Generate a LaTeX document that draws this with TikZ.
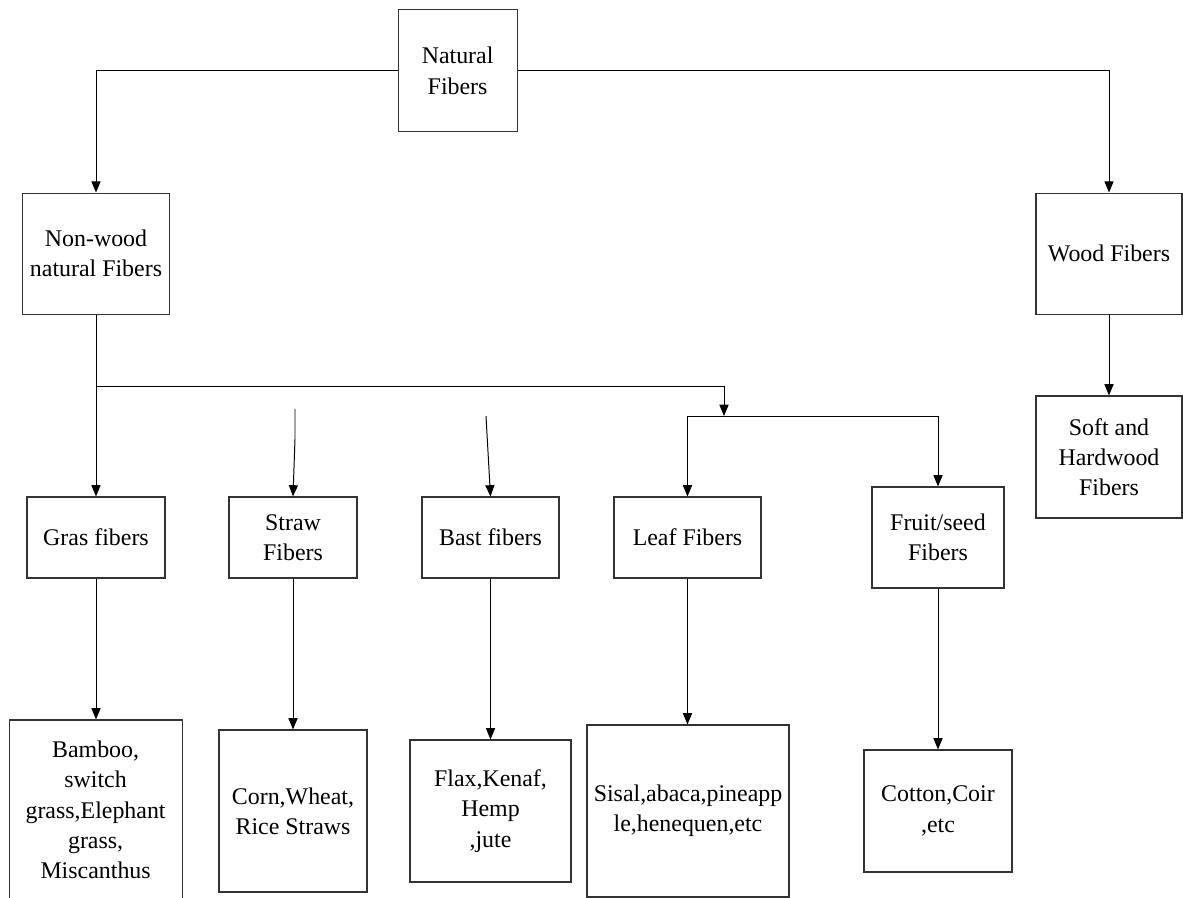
\documentclass[tikz,border=0pt]{standalone}
\usepackage{fontspec}
\setmainfont{Liberation Serif}
\usepackage{tikz}
\usetikzlibrary{arrows.meta, calc}
\tikzset{>={Triangle[length=8pt, width=6.5pt]}}

\begin{document}
\begin{tikzpicture}[
    box/.style={draw=black!80, line width=0.8pt, align=center, inner sep=2pt,
        font=\fontsize{17}{21.5}\selectfont},
    link/.style={line width=0.7pt}]
    \useasboundingbox (0,0) rectangle (29.575,22.45);

    % Top
    \node[box, minimum width=2.975cm, minimum height=3.05cm] (natural) at (11.44,20.68) {Natural\\Fibers};

    % Second row
    \node[box, minimum width=3.675cm, minimum height=3.025cm] (nonwood) at (2.4,16.11) {Non-wood\\natural Fibers};
    \node[box, minimum width=3.65cm, minimum height=3.025cm] (wood) at (27.725,16.11) {Wood Fibers};
    \node[box, minimum width=3.65cm, minimum height=3.05cm] (soft) at (27.725,11.025) {Soft and\\Hardwood\\Fibers};

    % Fiber kinds
    \node[box, minimum width=3.45cm, minimum height=2.025cm] (gras) at (2.4,9.0125) {Gras fibers};
    \node[box, minimum width=3.2cm, minimum height=2.025cm] (straw) at (7.325,9.0125) {Straw\\Fibers};
    \node[box, minimum width=3.425cm, minimum height=2.025cm] (bast) at (12.2625,9.0125) {Bast fibers};
    \node[box, minimum width=3.675cm, minimum height=2.025cm] (leaf) at (17.1875,9.0125) {Leaf Fibers};
    \node[box, minimum width=3.3cm, minimum height=2.525cm] (fruit) at (23.45,9.0125) {Fruit/seed\\Fibers};

    % Examples
    \node[box, minimum width=4.325cm, minimum height=4.5cm] (bamboo) at (2.39,2.2) {Bamboo,\\switch\\grass,Elephant\\grass,\\Miscanthus};
    \node[box, minimum width=3.7cm, minimum height=4.05cm] (corn) at (7.325,2.175) {Corn,Wheat,\\Rice Straws};
    \node[box, minimum width=4.025cm, minimum height=3.55cm] (flax) at (12.2625,2.175) {Flax,Kenaf,\\Hemp\\,jute};
    \node[box, minimum width=5.05cm, minimum height=4.3cm] (sisal) at (17.2,2.175) {Sisal,abaca,pineapp\\le,henequen,etc};
    \node[box, minimum width=3.7cm, minimum height=3.05cm] (cotton) at (23.45,2.175) {Cotton,Coir\\,etc};

    % Junctions
    \coordinate (split) at (18.1,12.8);
    \coordinate (fork) at (18.1,12.05);
    \coordinate (strawA) at (7.375,12.225);
    \coordinate (strawB) at (7.375,11.475);
    \coordinate (bastA) at (12.15,12.05);

    % Lines
    \draw[link, ->] (natural.west) -| (nonwood.north);
    \draw[link, ->] (natural.east) -| (wood.north);
    \draw[link, ->] (wood.south) -- (soft.north);
    \draw[link, ->] (nonwood.south) -- (gras.north);
    \draw[link] (nonwood.south |- split) -- (split);
    \draw[link, ->] (split) -- (fork);
    \draw[link, ->] (fork -| leaf.north) -| (fruit.north);
    \draw[link, ->] (fork -| leaf.north) -- (leaf.north);
    \draw[link, ->] (strawA) -- (strawB) -- (straw.north);
    \draw[link, ->] (bastA) -- (bast.north);

    % Down to examples
    \draw[link, ->] (gras.south) -- (gras.south |- bamboo.north);
    \draw[link, ->] (straw.south) -- (straw.south |- corn.north);
    \draw[link, ->] (bast.south) -- (bast.south |- flax.north);
    \draw[link, ->] (leaf.south) -- (leaf.south |- sisal.north);
    \draw[link, ->] (fruit.south) -- (fruit.south |- cotton.north);
\end{tikzpicture}
\end{document}
